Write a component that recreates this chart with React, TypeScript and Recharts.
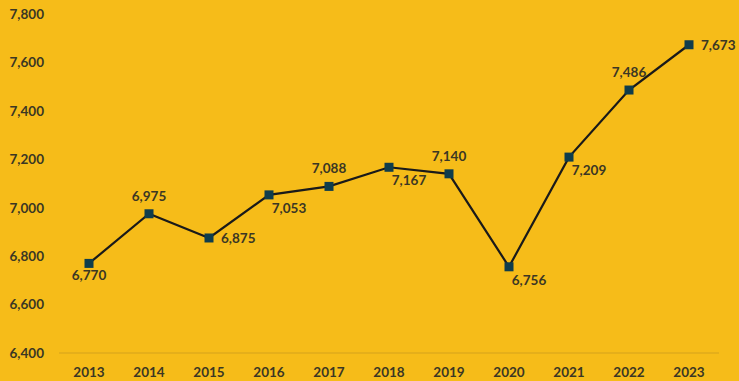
import React from 'react';
import { LineChart, Line, XAxis, YAxis, LabelList } from 'recharts';

const years = ['2013', '2014', '2015', '2016', '2017', '2018', '2019', '2020', '2021', '2022', '2023'];
const values = [6770, 6975, 6875, 7053, 7088, 7167, 7140, 6756, 7209, 7486, 7673];
const yTicks = [6400, 6600, 6800, 7000, 7200, 7400, 7600, 7800];
const labelSide = ['below', 'above', 'right', 'belowRight', 'above', 'belowRight', 'above', 'belowRight', 'belowRight', 'above', 'right'];

const data = years.map((y, i) => ({ year: y, value: values[i] }));

const BG = '#F6BC19';
const TEXT = '#3b3724';
const FONT = 'Lato, "Open Sans", sans-serif';

const fmt = (v: number) => v.toLocaleString('en-US');

const SquareDot = (props: any) => {
  const { cx, cy } = props;
  if (cx == null || cy == null) return null;
  return <rect x={cx - 4.5} y={cy - 4.5} width={9} height={9} fill="#0f3d4c" />;
};

const renderLabel = (props: any) => {
  const { x, y, value, index } = props;
  const side = labelSide[index];
  let dx = 0, dy = 0, anchor: 'middle' | 'start' = 'middle';
  if (side === 'below') { dy = 12; }
  else if (side === 'above') { dy = -18; }
  else if (side === 'right') { dx = 12; anchor = 'start'; }
  else if (side === 'belowRight') { dx = 20; dy = 13; }
  return (
    <text x={x + dx} y={y + dy} textAnchor={anchor} dominantBaseline="central"
      fill={TEXT} fontFamily={FONT} fontWeight={700} fontSize={13.5}>
      {fmt(value)}
    </text>
  );
};

export default function App() {
  return (
    <div style={{ position: 'absolute', left: 0, top: 0, width: 739, height: 381, background: BG }}>
      <LineChart width={739} height={381} data={data} margin={{ top: 14, right: 20, bottom: 0, left: 0 }}>
        <XAxis dataKey="year" padding={{ left: 30, right: 30 }} height={28}
          axisLine={{ stroke: '#d4a21c', strokeWidth: 1 }} tickLine={false} tickMargin={8}
          tick={{ fill: TEXT, fontFamily: FONT, fontWeight: 700, fontSize: 13.5 }} interval={0} />
        <YAxis domain={[6400, 7800]} ticks={yTicks} width={59} axisLine={false} tickLine={false}
          tickMargin={9} tickFormatter={fmt}
          tick={{ fill: TEXT, fontFamily: FONT, fontWeight: 700, fontSize: 13.5 }} />
        <Line dataKey="value" stroke="#1a1a1a" strokeWidth={2.2} dot={<SquareDot />} activeDot={false}
          isAnimationActive={false}>
          <LabelList dataKey="value" content={renderLabel} />
        </Line>
      </LineChart>
    </div>
  );
}
